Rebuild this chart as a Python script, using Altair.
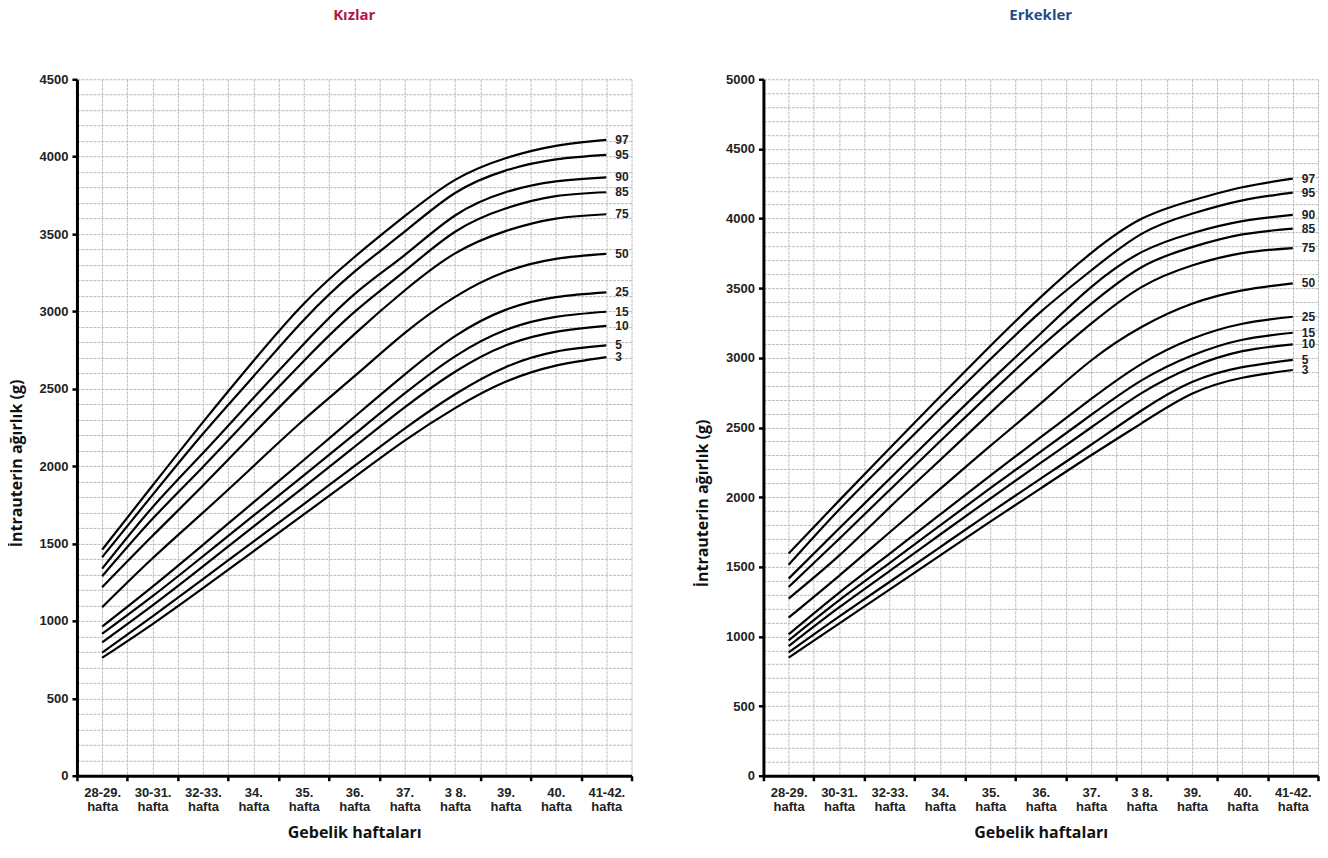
import altair as alt
import pandas as pd

weeks = ["28-29.", "30-31.", "32-33.", "34.", "35.", "36.", "37.", "3 8.", "39.", "40.", "41-42."]
percentiles = ["97", "95", "90", "85", "75", "50", "25", "15", "10", "5", "3"]

# Kızlar (girls)
k97 = [1461, 1875, 2285, 2680, 3050, 3350, 3615, 3850, 3990, 4070, 4108]
k95 = [1412, 1815, 2210, 2580, 2945, 3255, 3515, 3765, 3910, 3982, 4011]
k90 = [1338, 1735, 2085, 2440, 2790, 3110, 3364, 3620, 3770, 3840, 3866]
k85 = [1289, 1660, 1995, 2340, 2680, 2995, 3260, 3515, 3665, 3745, 3770]
k75 = [1218, 1550, 1875, 2210, 2540, 2852, 3135, 3375, 3519, 3600, 3628]
k50 = [1089, 1405, 1700, 2000, 2300, 2580, 2860, 3094, 3256, 3340, 3372]
k25 = [964, 1222, 1492, 1766, 2040, 2318, 2592, 2840, 3010, 3092, 3123]
k15 = [917, 1160, 1418, 1680, 1940, 2205, 2470, 2710, 2880, 2965, 2998]
k10 = [861, 1100, 1352, 1610, 1865, 2124, 2380, 2610, 2780, 2868, 2907]
k5 = [796, 1030, 1270, 1513, 1755, 2000, 2243, 2465, 2640, 2740, 2780]
k3 = [762, 980, 1212, 1450, 1688, 1928, 2165, 2375, 2545, 2650, 2705]

# Erkekler (boys)
e97 = [1595, 1975, 2350, 2720, 3085, 3436, 3752, 3998, 4130, 4225, 4287]
e95 = [1515, 1910, 2275, 2635, 2990, 3330, 3627, 3890, 4034, 4130, 4186]
e90 = [1415, 1775, 2130, 2485, 2835, 3175, 3508, 3759, 3895, 3981, 4026]
e85 = [1355, 1700, 2050, 2400, 2745, 3080, 3388, 3651, 3795, 3886, 3928]
e75 = [1272, 1580, 1925, 2265, 2605, 2935, 3245, 3508, 3663, 3752, 3788]
e50 = [1135, 1435, 1746, 2057, 2368, 2673, 2981, 3221, 3388, 3484, 3535]
e25 = [1015, 1313, 1593, 1874, 2155, 2430, 2705, 2957, 3137, 3245, 3295]
e15 = [972, 1259, 1527, 1796, 2064, 2327, 2590, 2838, 3017, 3130, 3180]
e10 = [930, 1208, 1469, 1730, 1990, 2246, 2500, 2747, 2933, 3048, 3097]
e5 = [885, 1142, 1391, 1640, 1889, 2133, 2376, 2622, 2826, 2933, 2985]
e3 = [848, 1092, 1336, 1580, 1824, 2063, 2301, 2530, 2742, 2857, 2913]

girls = [k97, k95, k90, k85, k75, k50, k25, k15, k10, k5, k3]
boys = [e97, e95, e90, e85, e75, e50, e25, e15, e10, e5, e3]


def frame(series):
    rows = []
    for p, vals in zip(percentiles, series):
        for i, v in enumerate(vals):
            rows.append({"idx": i, "value": v, "pct": p})
    return pd.DataFrame(rows)


TICK_FONT = "Liberation Sans, Arial, sans-serif"
TITLE_FONT = "Open Sans, Noto Sans, sans-serif"

week_arr = "[" + ",".join("'" + w + "'" for w in weeks) + "]"
x_label_expr = (
    "datum.value % 1 === 0 ? [" + week_arr + "[datum.value], 'hafta'] : ''"
)
x_values = [i / 2 - 0.5 for i in range(23)]


def panel(series, title_text, title_color, ymax, title_y):
    df = frame(series)
    xaxis = alt.Axis(
        values=x_values,
        labelExpr=x_label_expr,
        labelOverlap=False,
        labelFlush=False,
        labelFont=TICK_FONT,
        labelFontSize=13,
        labelFontWeight="bold",
        labelColor="#222222",
        labelLineHeight=14,
        labelPadding=6,
        tickOpacity={"condition": {"test": "datum.value % 1 !== 0", "value": 1}, "value": 0},
        tickSize=5,
        tickWidth=2.5,
        tickColor="black",
        domainColor="black",
        domainWidth=3,
        grid=True,
        gridColor="#bdbdbd",
        gridDash=[3, 1],
        gridWidth=1,
        title="Gebelik haftaları",
        titleFont=TITLE_FONT,
        titleFontSize=16,
        titleFontWeight="bold",
        titleColor="#111111",
        titlePadding=11,
    )
    yaxis = alt.Axis(
        values=list(range(0, ymax + 1, 100)),
        format="d",
        labelExpr="datum.value % 500 === 0 ? datum.label : ''",
        labelOverlap=False,
        labelFont=TICK_FONT,
        labelFontSize=13,
        labelFontWeight="bold",
        labelColor="#222222",
        labelPadding=4,
        tickOpacity={"condition": {"test": "datum.value % 500 === 0", "value": 1}, "value": 0},
        tickSize=5,
        tickWidth=2.5,
        tickColor="black",
        domainColor="black",
        domainWidth=3,
        grid=True,
        gridColor="#bdbdbd",
        gridDash=[3, 1],
        gridWidth=1,
        title="İntrauterin ağırlık (g)",
        titleFont=TITLE_FONT,
        titleFontSize=16,
        titleFontWeight="bold",
        titleColor="#111111",
        titlePadding=15,
        titleY=title_y,
    )
    x = alt.X("idx:Q", scale=alt.Scale(domain=[-0.5, 10.5], nice=False, zero=False), axis=xaxis)
    y = alt.Y("value:Q", scale=alt.Scale(domain=[0, ymax], nice=False), axis=yaxis)
    base = alt.Chart(df)
    lines = base.mark_line(color="black", strokeWidth=2.2, interpolate="natural").encode(
        x=x, y=y, detail="pct:N"
    )
    labels = (
        base.transform_filter(alt.datum.idx == 10)
        .mark_text(align="left", baseline="middle", dx=9, font=TICK_FONT, fontSize=12,
                   fontWeight="bold", color="#222222")
        .encode(x=x, y=y, text="pct:N")
    )
    return alt.layer(lines, labels).properties(
        width=555,
        height=697,
        title=alt.TitleParams(
            text=title_text,
            color=title_color,
            font=TITLE_FONT,
            fontSize=15,
            fontWeight="bold",
            anchor="middle",
            frame="group",
            offset=50,
        ),
    )


left = panel(girls, "Kızlar", "#b1174a", 4500, 384)
right = panel(boys, "Erkekler", "#1f4e8d", 5000, 424)

chart = (
    alt.hconcat(left, right, spacing=61)
    .properties(padding={"left": 0, "top": 0, "right": 0, "bottom": 0})
    .configure_view(stroke=None)
)

chart.save("out.html", embed_options={"renderer": "svg", "actions": False})
